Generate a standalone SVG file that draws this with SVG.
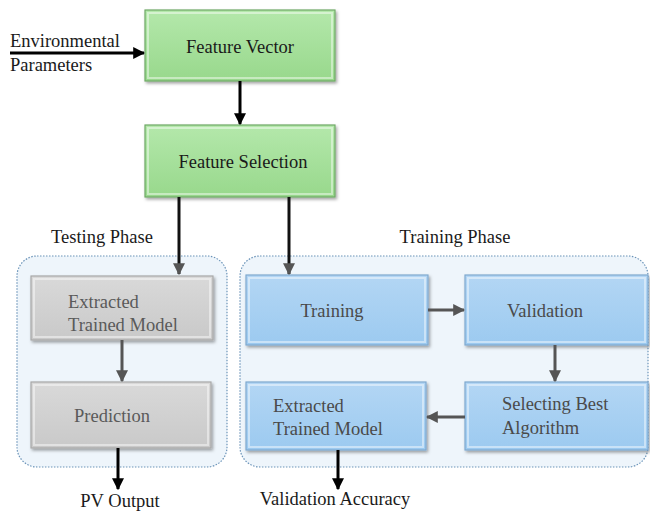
<svg xmlns="http://www.w3.org/2000/svg" width="650" height="515" viewBox="0 0 650 515">
<defs>
<linearGradient id="gGreen" x1="0" y1="0" x2="0" y2="1"><stop offset="0" stop-color="#b4e8ab"/><stop offset="1" stop-color="#98d88c"/></linearGradient>
<linearGradient id="gGrey" x1="0" y1="0" x2="0" y2="1"><stop offset="0" stop-color="#d9d9d9"/><stop offset="1" stop-color="#c9c9c9"/></linearGradient>
<linearGradient id="gBlue" x1="0" y1="0" x2="0" y2="1"><stop offset="0" stop-color="#b3d6f4"/><stop offset="1" stop-color="#9ccaf0"/></linearGradient>
<filter id="sh" x="-10%" y="-10%" width="125%" height="130%"><feDropShadow dx="1.5" dy="2" stdDeviation="1.5" flood-color="#000" flood-opacity="0.35"/></filter>
<marker id="ak" viewBox="0 0 10 10" refX="9" refY="5" markerWidth="4" markerHeight="4" orient="auto"><path d="M0,0 L10,5 L0,10 z" fill="#000"/></marker>
<marker id="ag" viewBox="0 0 10 10" refX="9" refY="5" markerWidth="4" markerHeight="4" orient="auto"><path d="M0,0 L10,5 L0,10 z" fill="#555"/></marker>
</defs>
<style>
text{font-family:"Liberation Serif","Times New Roman",serif;font-size:18.5px}
.t{fill:#1a1a1a}
.tg{fill:#5a5a5a}
.tb{fill:#4a4a4a}
.green{fill:url(#gGreen);stroke:#6fa866;stroke-width:1.2;filter:url(#sh)}
.grey{fill:url(#gGrey);stroke:#a8a8a8;stroke-width:1.2;filter:url(#sh)}
.blue{fill:url(#gBlue);stroke:#7fa9cf;stroke-width:1.2;filter:url(#sh)}
.hl{fill:none;stroke:#fff;stroke-opacity:0.45;stroke-width:2}
.cont{fill:#eef5fb;stroke:#6a93b8;stroke-width:1.2;stroke-dasharray:1.5 1.5}
.ck{stroke:#000;stroke-width:3;fill:none;marker-end:url(#ak)}
.cm{stroke:#111;stroke-width:3;fill:none;marker-end:url(#ag)}
.cg{stroke:#555;stroke-width:3;fill:none;marker-end:url(#ag)}
</style>
<g id="containers">
<rect id="testing-phase" class="cont" x="17" y="256" width="210" height="211" rx="20"/>
<rect id="training-phase" class="cont" x="240" y="256" width="408" height="211" rx="20"/>
<text class="t" x="102" y="243" text-anchor="middle">Testing Phase</text>
<text class="t" x="455" y="243" text-anchor="middle">Training Phase</text>
</g>
<g id="feature-vector">
<rect class="green" x="145" y="10" width="190" height="71"/>
<rect class="hl" x="148" y="13" width="184" height="65"/>
<text class="t" x="240" y="53" text-anchor="middle">Feature Vector</text>
</g>
<g id="feature-selection">
<rect class="green" x="145" y="125" width="190" height="72"/>
<rect class="hl" x="148" y="128" width="184" height="66"/>
<text class="t" x="243" y="168" text-anchor="middle">Feature Selection</text>
</g>
<g id="env-params">
<text class="t" x="10" y="47">Environmental</text>
<text class="t" x="10" y="71">Parameters</text>
</g>
<g id="test-extracted">
<rect class="grey" x="31" y="276" width="182" height="64"/>
<rect class="hl" x="34" y="279" width="176" height="58"/>
<text class="tg" x="68" y="308">Extracted</text>
<text class="tg" x="68" y="331">Trained Model</text>
</g>
<g id="prediction">
<rect class="grey" x="31" y="382" width="180" height="66"/>
<rect class="hl" x="34" y="385" width="174" height="60"/>
<text class="tg" x="112" y="422" text-anchor="middle">Prediction</text>
</g>
<g id="training">
<rect class="blue" x="246" y="275" width="182" height="70"/>
<rect class="hl" x="249" y="278" width="176" height="64"/>
<text class="tb" x="332" y="317" text-anchor="middle">Training</text>
</g>
<g id="validation">
<rect class="blue" x="465" y="275" width="183" height="70"/>
<rect class="hl" x="468" y="278" width="177" height="64"/>
<text class="tb" x="545" y="317" text-anchor="middle">Validation</text>
</g>
<g id="selecting">
<rect class="blue" x="465" y="382" width="183" height="68"/>
<rect class="hl" x="468" y="385" width="177" height="62"/>
<text class="tb" x="502" y="410">Selecting Best</text>
<text class="tb" x="502" y="434">Algorithm</text>
</g>
<g id="train-extracted">
<rect class="blue" x="246" y="382" width="180" height="68"/>
<rect class="hl" x="249" y="385" width="174" height="62"/>
<text class="tb" x="273" y="412">Extracted</text>
<text class="tb" x="273" y="435">Trained Model</text>
</g>
<g id="outputs">
<text class="t" x="120" y="507" text-anchor="middle">PV Output</text>
<text class="t" x="335" y="505" text-anchor="middle">Validation Accuracy</text>
</g>
<g id="connectors">
<path class="ck" d="M10,53 H144"/>
<path class="ck" d="M240,81 V124"/>
<path class="cm" d="M179,197 V274"/>
<path class="cm" d="M289,197 V274"/>
<path class="cg" d="M122,340 V381"/>
<path class="ck" d="M118,448 V489"/>
<path class="cg" d="M428,310 H464"/>
<path class="cg" d="M555,345 V381"/>
<path class="cg" d="M465,417 H427"/>
<path class="ck" d="M338,450 V489"/>
</g>
</svg>
